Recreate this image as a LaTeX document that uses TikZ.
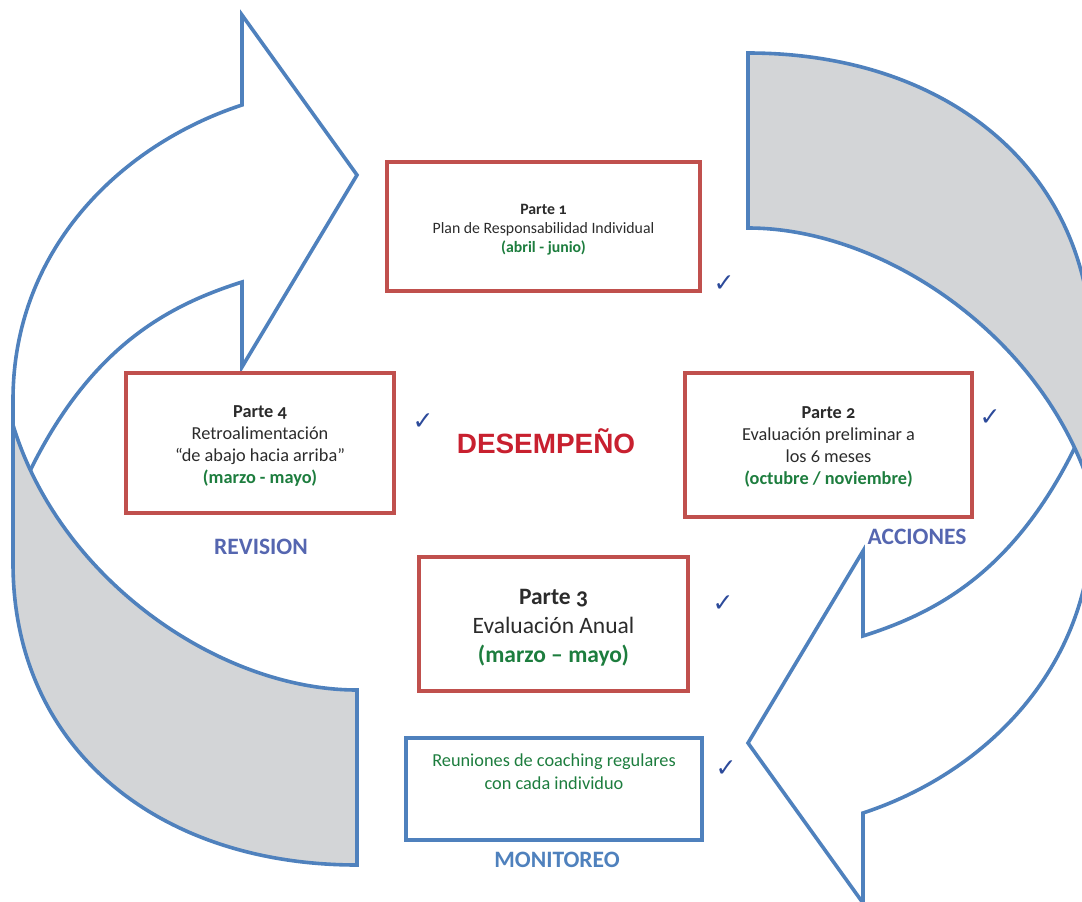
\documentclass[tikz,border=0pt]{standalone}
\usepackage{fontspec}
\setmainfont{Carlito}[Numbers=OldStyle]
\newfontfamily\headfont{Liberation Sans}
\newfontfamily\tickfont{DejaVu Sans}

\definecolor{ringblue}{HTML}{4F81BD}
\definecolor{ringgray}{HTML}{D3D5D7}
\definecolor{boxred}{HTML}{C0504D}
\definecolor{titlered}{HTML}{C8202F}
\definecolor{dategreen}{HTML}{1D7D3E}
\definecolor{bodytext}{HTML}{2B2B2B}
\definecolor{phaseblue}{HTML}{5566B0}
\definecolor{tickblue}{HTML}{2C4A9A}

\tikzset{
  ringline/.style={draw=ringblue, line width=3.6pt, line join=miter},
  frontband/.style={ringline, fill=white},
  backband/.style={ringline, fill=ringgray},
  redbox/.style={draw=boxred, line width=4pt, inner sep=0pt},
  bluebox/.style={draw=ringblue, line width=4pt, inner sep=0pt},
  boxtext/.style={align=center, inner sep=0pt, text=bodytext},
  phase/.style={font=\fontsize{23.5}{28}\selectfont\bfseries, text=phaseblue},
  tick/.style={font=\tickfont\bfseries\fontsize{25}{28}\selectfont, text=tickblue, inner sep=0pt},
}

\begin{document}
\begin{tikzpicture}[x=1pt, y=-1pt]
  \useasboundingbox (0,0) rectangle (1082,902);
  \clip (0,0) rectangle (1082,902);

  % two curved arrows, the second one is the first turned half a turn
  \foreach \turn in {0,180} {
    \begin{scope}[rotate around={\turn:(552.5,459)}]
      % front face of the band, ending in the arrow head
      \draw[frontband] (13,520) -- (13,400)
        .. controls (13,250) and (120,145) .. (242,105)
        -- (242,15) -- (357,175) -- (242,367) -- (242,282)
        .. controls (170,305) and (90,345) .. (27,477) -- cycle;
      % back face of the band (tail)
      \draw[backband] (357,865) -- (357,690)
        .. controls (220,690) and (60,580) .. (13,425)
        -- (13,563)
        .. controls (13,750) and (160,865) .. (357,865) -- cycle;
    \end{scope}
  }

  % the four parts: frames
  \node[redbox, minimum width=313pt, minimum height=129pt] (p1) at (543.5,226.5) {};
  \node[redbox, minimum width=287pt, minimum height=144pt] (p2) at (828.5,445) {};
  \node[redbox, minimum width=269pt, minimum height=134pt] (p3) at (553.5,624) {};
  \node[redbox, minimum width=268pt, minimum height=140pt] (p4) at (260,443) {};

  % the four parts: texts
  \node[boxtext, font=\fontsize{15.8}{19}\selectfont] (p1text) at ([yshift=-3.5pt]p1.center)
    {\textbf{Parte 1}\\Plan de Responsabilidad Individual\\
     \textcolor{dategreen}{\textbf{(abril - junio)}}};
  \node[boxtext, font=\fontsize{18.3}{22}\selectfont] (p2text) at ([yshift=-2pt]p2.center)
    {\textbf{Parte 2}\\Evaluación preliminar a\\los 6 meses\\
     \textcolor{dategreen}{\textbf{(octubre / noviembre)}}};
  \node[boxtext, font=\fontsize{23.5}{29}\selectfont] (p3text) at ([yshift=-4pt]p3.center)
    {\textbf{Parte 3}\\Evaluación Anual\\
     \textcolor{dategreen}{\textbf{(marzo – mayo)}}};
  \node[boxtext, font=\fontsize{18.3}{22}\selectfont] (p4text) at ([yshift=-3pt]p4.center)
    {\textbf{Parte 4}\\Retroalimentación\\“de abajo hacia arriba”\\
     \textcolor{dategreen}{\textbf{(marzo - mayo)}}};

  % coaching meetings
  \node[bluebox, minimum width=296pt, minimum height=102pt] (coach) at (554,789) {};
  \node[anchor=north, align=center, inner sep=0pt, text=dategreen,
        font=\fontsize{18.3}{23}\selectfont] (coachtext) at ([yshift=-18pt]coach.north)
    {Reuniones de coaching regulares\\con cada individuo};

  % centre title and phase labels
  \node[font=\headfont\bfseries\fontsize{27.9}{32}\selectfont, text=titlered] (title) at (546,441) {DESEMPEÑO};
  \node[phase] (rev) at (261,547) {REVISION};
  \node[phase] (acc) at (917,537) {ACCIONES};
  \node[phase, text=ringblue] (mon) at (557,860) {MONITOREO};

  % check marks
  \node[tick] (ck1) at (724,284) {✓};
  \node[tick] (ck2) at (990,418) {✓};
  \node[tick] (ck3) at (723,604) {✓};
  \node[tick] (ck4) at (423,422) {✓};
  \node[tick] (ck5) at (726,769) {✓};
\end{tikzpicture}
\end{document}
